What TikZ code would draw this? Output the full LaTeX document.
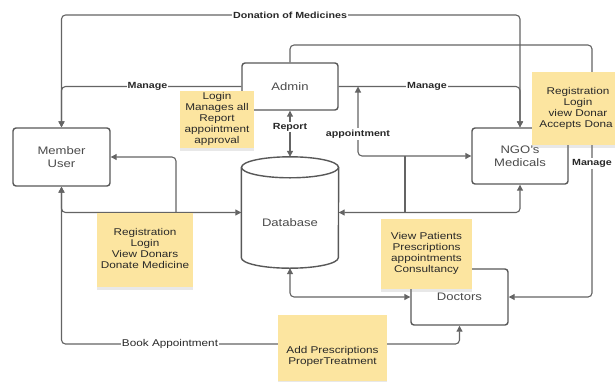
\documentclass[tikz,border=0pt]{standalone}
\usepackage{fontspec}
\setmainfont{Liberation Sans}[FakeStretch=1.2]
\usetikzlibrary{arrows.meta,shadows}
\definecolor{lineg}{RGB}{100,100,100}
\definecolor{boxg}{RGB}{88,88,88}
\definecolor{sticky}{RGB}{252,229,160}
\definecolor{txtg}{RGB}{75,75,75}
\definecolor{txtd}{RGB}{40,40,40}
\tikzset{
  link/.style={draw=lineg, line width=1.1pt, rounded corners=4pt},
  box/.style={draw=boxg, line width=1.4pt, rounded corners=3pt, fill=white,
    font=\fontsize{10.9}{13}\selectfont, text=txtg, align=center, inner sep=0pt},
  note/.style={fill=sticky, drop shadow={opacity=0.18, shadow xshift=0pt, shadow yshift=-3pt},
    font=\fontsize{9.8}{11.1}\selectfont, text=txtd, inner sep=0pt},
  lbl/.style={fill=white, font=\bfseries\fontsize{8.9}{10}\selectfont, text=txtd, inner xsep=1pt, inner ysep=1.5pt},
  lblr/.style={fill=white, font=\fontsize{9.8}{10}\selectfont, text=txtd, inner xsep=1pt, inner ysep=1.5pt},
  dbtext/.style={font=\fontsize{10.9}{13}\selectfont, text=txtg},
}
\begin{document}
\begin{tikzpicture}[x=1pt, y=-1pt, >={Triangle[length=6pt,width=6pt]}]
\path[fill=white, use as bounding box] (0,0) rectangle (615,381);

% main nodes
\node[box, minimum width=97pt, minimum height=58pt] (member) at (61.5,157) {Member\\User};
\node[box, minimum width=96pt, minimum height=47pt] (admin) at (290,86.5) {Admin};
\node[box, minimum width=96pt, minimum height=56pt] (ngo) at (520,156) {NGO's\\Medicals};
\node[box, minimum width=97pt, minimum height=56pt] (doctors) at (459.5,297) {Doctors};
\node[minimum width=97pt, minimum height=111pt, inner sep=0pt] (db) at (290,212.5) {};

% cylinder outline of the database
\draw[draw=boxg, line width=1.4pt, fill=white]
  ([yshift=-10.5pt]db.north west) -- ([yshift=10.5pt]db.south west)
  arc[start angle=180, end angle=360, x radius=48.5pt, y radius=10.5pt]
  -- ([yshift=-10.5pt]db.north east);
\draw[draw=boxg, line width=1.4pt]
  ([yshift=-10.5pt]db.north) ellipse[x radius=48.5pt, y radius=10.5pt];
\node[dbtext] (dbt) at ([yshift=-10.5pt]db.center) {Database};

% connector helper coordinates
\coordinate (cdon) at (290,15);
\coordinate (cman) at (592,45);
\coordinate (cap) at (358,86.5);
\coordinate (j1) at (405,212.5);
\coordinate (j2) at (405,156);
\coordinate (j3) at (176,212.5);
\coordinate (cbk) at (170,344);

% connectors
\draw[link,<->] (member.north) |- (cdon) -| (ngo.north);
\draw[link,->] (admin.west) -| (member.north);
\draw[link,->] (admin.east) -| (ngo.north);
\draw[link,->] (admin.north) |- (cman) |- (doctors.east);
\draw[link,<->] (admin.south) -- (db.north);
\draw[link,<->] (cap) |- (ngo.west);
\draw[link,<->] (db.east) -| (ngo.south);
\draw[link] (j1) -- (j2);
\draw[link,<->] (member.south) |- (db.west);
\draw[link,->] (j3) |- (member.east);
\draw[link,<->] (member.south) |- (cbk) -| (doctors.south);
\draw[link,<->] (db.south) |- (doctors.west);

% sticky notes
\node[note, minimum width=74pt, minimum height=57pt] (s1) at (217,119.5)
  {\begin{tabular}{@{}c@{}}Login\\Manages all\\Report\\appointment\\approval\end{tabular}};
\node[note, minimum width=83pt, minimum height=73pt] (s2) at (573.5,108.5)
  {\hspace*{4.5pt}\begin{tabular}{@{}c@{}}Registration\\Login\\view Donar\\Accepts Dona\phantom{r}\end{tabular}\hspace*{-4.5pt}};
\node[note, minimum width=91pt, minimum height=70pt] (s3) at (426.5,254)
  {\begin{tabular}{@{}c@{}}View Patients\\Prescriptions\\appointments\\Consultancy\end{tabular}};
\node[note, minimum width=96pt, minimum height=74pt] (s4) at (145,249.5)
  {\begin{tabular}{@{}c@{}}Registration\\Login\\View Donars\\Donate Medicine\end{tabular}};
\node[note, minimum width=109pt, minimum height=66pt] (s5) at (332.5,348)
  {\begin{tabular}{@{}c@{}}\mbox{}\\[6pt]Add Prescriptions\\ProperTreatment\end{tabular}};

% connector labels
\node[lbl] (ldon) at (cdon) {Donation of Medicines};
\node[lbl] (lm1) at (147.5,86.5) {Manage};
\node[lbl] (lm2) at (427,86.5) {Manage};
\node[lbl] (lm3) at (592,163) {Manage};
\node[lbl] (lrep) at (290,127) {Report};
\node[lbl] (lapp) at (358,134) {appointment};
\node[lblr] (lbk) at (cbk) {Book Appointment};
\end{tikzpicture}
\end{document}
